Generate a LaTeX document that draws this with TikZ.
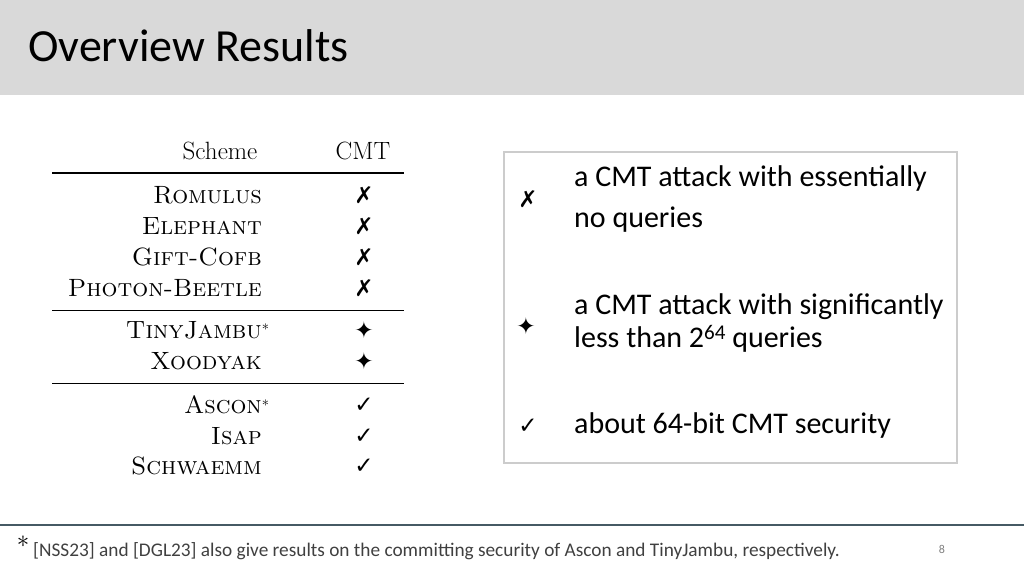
\documentclass[tikz,border=0pt]{standalone}
\usepackage{fontspec}
\newfontfamily\carl{Carlito}
\newfontfamily\symf{DejaVu Sans}
\begin{document}
\begin{tikzpicture}[x=1pt,y=-1pt,
  nm/.style={anchor=east,font=\fontsize{25}{25}\selectfont\scshape,inner sep=0},
  sy/.style={font=\symf\bfseries\fontsize{23}{23}\selectfont,inner sep=0},
  lt/.style={anchor=west,font=\carl\fontsize{30}{34}\selectfont,inner sep=0}]
\useasboundingbox (0,0) rectangle (1024,576);
\fill[gray!30] (0,0) rectangle (1024,95);
\node[anchor=west,inner sep=0,font=\carl\fontsize{46}{46}\selectfont] (title) at (28,46) {Overview Results};
% table
\node[font=\fontsize{25}{25}\selectfont,inner sep=0] (hs) at (220,151) {Scheme};
\node[font=\fontsize{25}{25}\selectfont,inner sep=0] (hc) at (363,151) {CMT};
\draw[line width=1.6pt] (52,173) -- (404,173);
\draw[line width=0.6pt] (52,310) -- (404,310);
\draw[line width=0.6pt] (52,383) -- (404,383);
\foreach \n/\y/\s [count=\i] in {Romulus/195/✗,Elephant/226/✗,Gift-Cofb/257/✗,Photon-Beetle/288/✗,Xoodyak/361/✦,Isap/436/✓,Schwaemm/466/✓}{
  \node[nm] (n\i) at (262,\y) {\n};
  \node[sy] (s\i) at (364,\y) {\s};
}
\node[nm] (tj) at (262,330) {TinyJambu\rlap{\normalfont\fontsize{20}{20}\selectfont$^*$}};
\node[sy] (stj) at (364,330) {✦};
\node[nm] (as) at (262,405) {Ascon\rlap{\normalfont\fontsize{20}{20}\selectfont$^*$}};
\node[sy] (sas) at (364,405) {✓};
% legend
\draw[gray!40,line width=1.2pt] (504,152) rectangle (957,463);
\node[sy] (l1) at (528,199) {✗};
\node[sy] (l2) at (526,326) {✦};
\node[sy] (l3) at (528,426) {✓};
\node[lt] (t1) at (574,178) {a CMT attack with essentially};
\node[lt] (t1b) at (574,220) {no queries};
\node[lt] (t2) at (574,307) {a CMT attack with significantly};
\node[lt] (t2b) at (574,339) {less than 2\raisebox{0.55ex}{\fontsize{21}{21}\selectfont 64} queries};
\node[lt] (t3) at (574,425) {about 64-bit CMT security};
% footer
\draw[line width=1.5pt,color={rgb,255:red,70;green,90;blue,100}] (0,525) -- (1024,525);
\node[inner sep=0,font=\fontsize{30}{30}\selectfont] (st) at (23,542) {$*$};
\node[anchor=west,inner sep=0,font=\carl\fontsize{19.3}{19.3}\selectfont,text=black!75] (fn) at (33,551) {[NSS23] and [DGL23] also give results on the committing security of Ascon and TinyJambu, respectively.};
\node[inner sep=0,font=\carl\fontsize{12}{12}\selectfont,text=gray] (pg) at (942,549) {8};
\end{tikzpicture}
\end{document}
